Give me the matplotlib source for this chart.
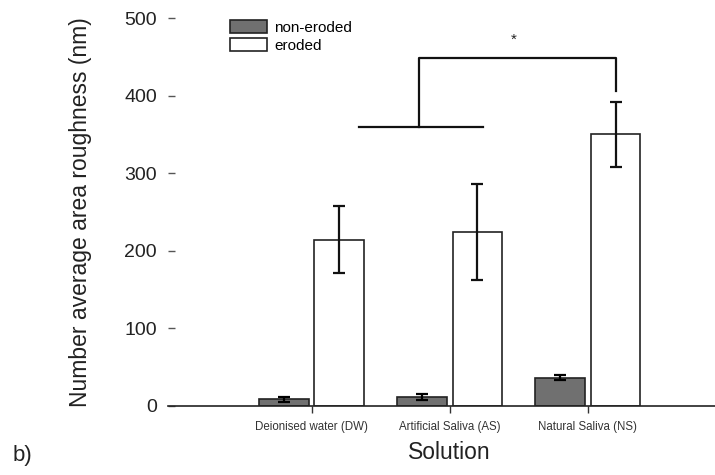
import matplotlib
matplotlib.use("Agg")
import matplotlib.pyplot as plt
import numpy as np

plt.rcParams['font.family'] = ['Liberation Sans', 'DejaVu Sans']

categories = ["Deionised water (DW)", "Artificial Saliva (AS)", "Natural Saliva (NS)"]
non_eroded = [8, 11, 36]
non_eroded_err = [3, 3.5, 3]
eroded = [214, 224, 350]
eroded_err = [43, 62, 42]
series_labels = ["non-eroded", "eroded"]

fig = plt.figure(figsize=(7.15, 4.75), dpi=100)
ax = fig.add_axes([0.235, 0.146, 0.765, 0.816])

x = np.arange(len(categories))
w = 0.36
off = 0.2
ax.bar(x - off, non_eroded, w, color="#707070", edgecolor="#222222", linewidth=1.2,
       label=series_labels[0], zorder=2)
ax.bar(x + off, eroded, w, color="white", edgecolor="#222222", linewidth=1.2,
       label=series_labels[1], zorder=2)
ax.errorbar(x - off, non_eroded, yerr=non_eroded_err, fmt="none", ecolor="black",
            elinewidth=1.6, capsize=4.5, capthick=1.6, zorder=3)
ax.errorbar(x + off, eroded, yerr=eroded_err, fmt="none", ecolor="#111111",
            elinewidth=1.6, capsize=4.5, capthick=1.6, zorder=3)

# significance bracket
ax.plot([0.34, 1.24], [359, 359], color="#111111", lw=1.6)
ax.plot([0.78, 0.78, 2.2, 2.2], [359, 448, 448, 406], color="#111111", lw=1.6)
ax.text(1.46, 472, "*", ha="center", va="center", fontsize=11, color="#222222")

ax.set_xlim(-1.04, 2.92)
ax.set_ylim(0, 500)
ax.set_yticks([0, 100, 200, 300, 400, 500])
ax.set_xticks(x)
ax.set_xticklabels(categories, fontsize=8.3, color="#333333")
for s in ["top", "right", "left"]:
    ax.spines[s].set_visible(False)
ax.spines["bottom"].set_linewidth(1.2)
ax.spines["bottom"].set_color("#222222")
ax.tick_params(axis="y", direction="in", length=5, width=1.0, color="#555555",
               labelsize=14, labelcolor="#222222", pad=8)
ax.tick_params(axis="x", direction="out", length=5, width=1.0, color="#333333", pad=6)

ax.set_ylabel("Number average area roughness (nm)", fontsize=16.5, color="#222222", labelpad=23)
ax.set_xlabel("Solution", fontsize=16.5, color="#222222", labelpad=6, x=0.515)

leg = ax.legend(loc="upper left", bbox_to_anchor=(0.102, 1.01), frameon=False,
                fontsize=11, handlelength=2.4, handleheight=0.9, labelspacing=0.2,
                handletextpad=0.5, borderaxespad=0)

fig.text(0.018, 0.03, "b)", fontsize=16, color="#222222")

fig.savefig("out.png", dpi=100, facecolor="white")
